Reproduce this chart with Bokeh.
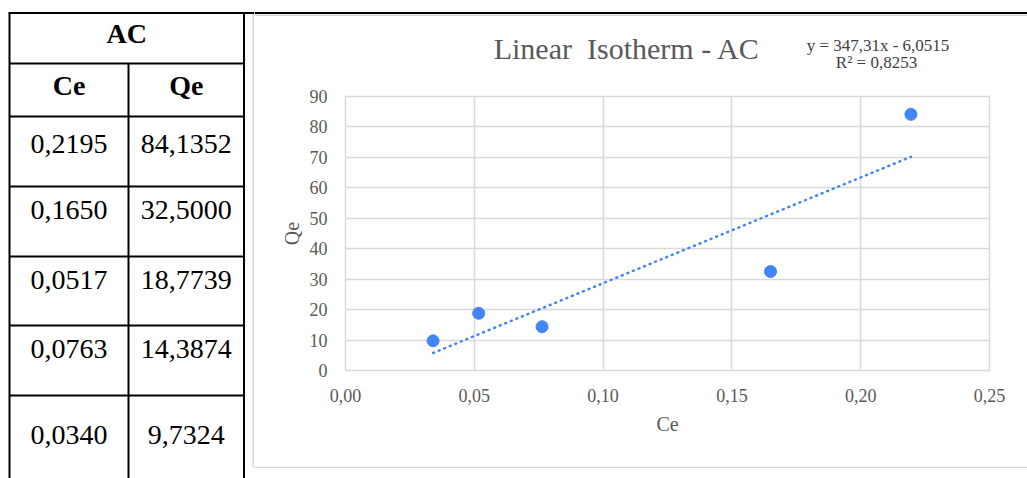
from bokeh.plotting import figure
from bokeh.models import (Range1d, CustomJSTickFormatter, FixedTicker, ColumnDataSource)
from bokeh.layouts import row, column
from bokeh.embed import file_html
from bokeh.resources import INLINE
from bokeh.core.properties import value

# ---------------- data ----------------
table_title = "AC"
col_names = ["Ce", "Qe"]
ce = [0.2195, 0.1650, 0.0517, 0.0763, 0.0340]
qe = [84.1352, 32.5000, 18.7739, 14.3874, 9.7324]
fit_slope = 347.31
fit_intercept = -6.0515
fit_r2 = 0.8253
x_ticks = [0.00, 0.05, 0.10, 0.15, 0.20, 0.25]
y_ticks = [0, 10, 20, 30, 40, 50, 60, 70, 80, 90]
chart_title = "Linear \u00a0Isotherm - AC"
x_title = "Ce"
y_title = "Qe"

def comma(v, d):
    return f"{v:.{d}f}".replace(".", ",")

# ---------------- layout / style ----------------
H = 478
TW = 254            # table strip (includes chart's left frame line)
CW = 773            # chart column width
HEAD_H = 78         # header strip with title + equation
CHART_H = 388       # chart figure
FOOT_H = H - HEAD_H - CHART_H
SERIF = "Liberation Serif"
GRAY_TXT = "#595959"
EQ_TXT = "#404040"
GRID = "#d9d9d9"
BLUE = "#4285f4"


def strip(w, h):
    f = figure(width=w, height=h, x_range=Range1d(0, w), y_range=Range1d(h, 0),
               output_backend="svg", toolbar_location=None, min_border=0,
               x_axis_location=None, y_axis_location=None, frame_align=False)
    f.grid.visible = False
    f.outline_line_color = None
    f.background_fill_color = "white"
    f.border_fill_color = "white"
    return f

# ---------------- table ----------------
tbl = strip(TW, H)
x_left, x_mid, x_right = 9, 128, 243.5
y_top, y_head, y_cols = 12.5, 63, 116
row_lines = [186, 256, 325, 395]

hx0 = [x_left - 1, x_left, x_left] + [x_left] * len(row_lines)
hx1 = [TW, x_right, x_right] + [x_right] * len(row_lines)
hy = [y_top, y_head, y_cols] + row_lines
tbl.segment(x0=hx0, y0=hy, x1=hx1, y1=hy, line_color="black", line_width=2)
tbl.segment(x0=[x_left, x_right, x_mid], y0=[y_top, y_top, y_head],
            x1=[x_left, x_right, x_mid], y1=[H, H, H], line_color="black", line_width=2)
# chart's outer frame, left edge
tbl.segment(x0=[252.75], y0=[14], x1=[252.75], y1=[466.75], line_color=GRID, line_width=1.5)
tbl.segment(x0=[252], y0=[14.75], x1=[TW], y1=[14.75], line_color=GRID, line_width=1.5)
tbl.segment(x0=[252], y0=[466], x1=[TW], y1=[466], line_color=GRID, line_width=1.5)

cx_left = (x_left + x_mid) / 2
cx_right = (x_mid + x_right) / 2
tbl.text(x=[(x_left + x_right) / 2], y=[32.5], text=[table_title],
         text_font=value(SERIF), text_font_size="28px", text_font_style="bold",
         text_align="center", text_baseline="middle", text_color="black")
tbl.text(x=[cx_left, cx_right], y=[85, 85], text=col_names,
         text_font=value(SERIF), text_font_size="28px", text_font_style="bold",
         text_align="center", text_baseline="middle", text_color="black")

row_centers = [143, 209, 279, 348, 434]
tsrc = ColumnDataSource(dict(
    xl=[cx_left] * len(ce), xr=[cx_right] * len(ce), y=row_centers,
    ce_s=[comma(v, 4) for v in ce], qe_s=[comma(v, 4) for v in qe]))
for col in ("xl", "xr"):
    tbl.text(x=col, y="y", text="ce_s" if col == "xl" else "qe_s", source=tsrc,
             text_font=value(SERIF), text_font_size="28px", text_align="center",
             text_baseline="middle", text_color="black")

# ---------------- header (title + equation) ----------------
head = strip(CW, HEAD_H)
head.segment(x0=[0], y0=[12.5], x1=[CW], y1=[12.5], line_color="black", line_width=2)
head.segment(x0=[0], y0=[14.75], x1=[CW], y1=[14.75], line_color=GRID, line_width=1.5)
head.text(x=[372.5], y=[48], text=[chart_title], text_font=value(SERIF),
          text_font_size="30px", text_color=GRAY_TXT, text_align="center",
          text_baseline="middle")
eq1 = f"y = {comma(fit_slope, 2)}x - {comma(abs(fit_intercept), 4)}"
eq2 = f"R² = {comma(fit_r2, 4)}"
head.text(x=[623.5, 622], y=[44.5, 61.5], text=[eq1, eq2], text_font=value(SERIF),
          text_font_size="17px", text_color=EQ_TXT, text_align="center",
          text_baseline="middle")

# ---------------- chart ----------------
FL = 91
FT = 96 - HEAD_H
FR = CW - 735
FB = CHART_H - FT - 274
p = figure(width=CW, height=CHART_H, x_range=Range1d(x_ticks[0], x_ticks[-1]),
           y_range=Range1d(y_ticks[0], y_ticks[-1]),
           output_backend="svg", toolbar_location=None, frame_align=False,
           min_border_left=FL, min_border_right=FR, min_border_top=FT,
           min_border_bottom=FB)
p.background_fill_color = "white"
p.border_fill_color = "white"
p.outline_line_color = GRID
p.outline_line_width = 1.5

p.xaxis.ticker = FixedTicker(ticks=x_ticks)
p.yaxis.ticker = FixedTicker(ticks=y_ticks)
p.xgrid.ticker = FixedTicker(ticks=x_ticks)
p.ygrid.ticker = FixedTicker(ticks=y_ticks)
p.xaxis.formatter = CustomJSTickFormatter(code="return tick.toFixed(2).replace('.', ',');")
p.yaxis.formatter = CustomJSTickFormatter(code="return tick.toFixed(0);")
p.grid.grid_line_color = GRID
p.grid.grid_line_width = 1.5

for ax in (p.xaxis, p.yaxis):
    ax.axis_line_color = None
    ax.major_tick_line_color = None
    ax.minor_tick_line_color = None
    ax.major_tick_out = 0
    ax.major_tick_in = 0
    ax.major_label_text_font = SERIF
    ax.major_label_text_font_size = "18px"
    ax.major_label_text_color = GRAY_TXT
    ax.axis_label_text_font = SERIF
    ax.axis_label_text_font_size = "20px"
    ax.axis_label_text_font_style = "normal"
    ax.axis_label_text_color = GRAY_TXT

p.xaxis.axis_label = x_title
p.yaxis.axis_label = y_title
p.xaxis.major_label_standoff = 18
p.yaxis.major_label_standoff = 18
p.xaxis.axis_label_standoff = 8
p.yaxis.axis_label_standoff = 4

x_fit = [min(ce), max(ce)]
y_fit = [fit_slope * x + fit_intercept for x in x_fit]
p.line(x_fit, y_fit, line_color=BLUE, line_width=2.5, line_dash="1 5",
       line_cap="round")
p.scatter(ce, qe, size=12, fill_color=BLUE, line_color=BLUE)

# ---------------- footer (chart frame bottom edge) ----------------
foot = strip(CW, FOOT_H)
foot.segment(x0=[0], y0=[0.75], x1=[CW], y1=[0.75], line_color=GRID, line_width=1.5)

layout = row(tbl, column(head, p, foot))
open("out.html", "w").write(file_html(layout, INLINE))
